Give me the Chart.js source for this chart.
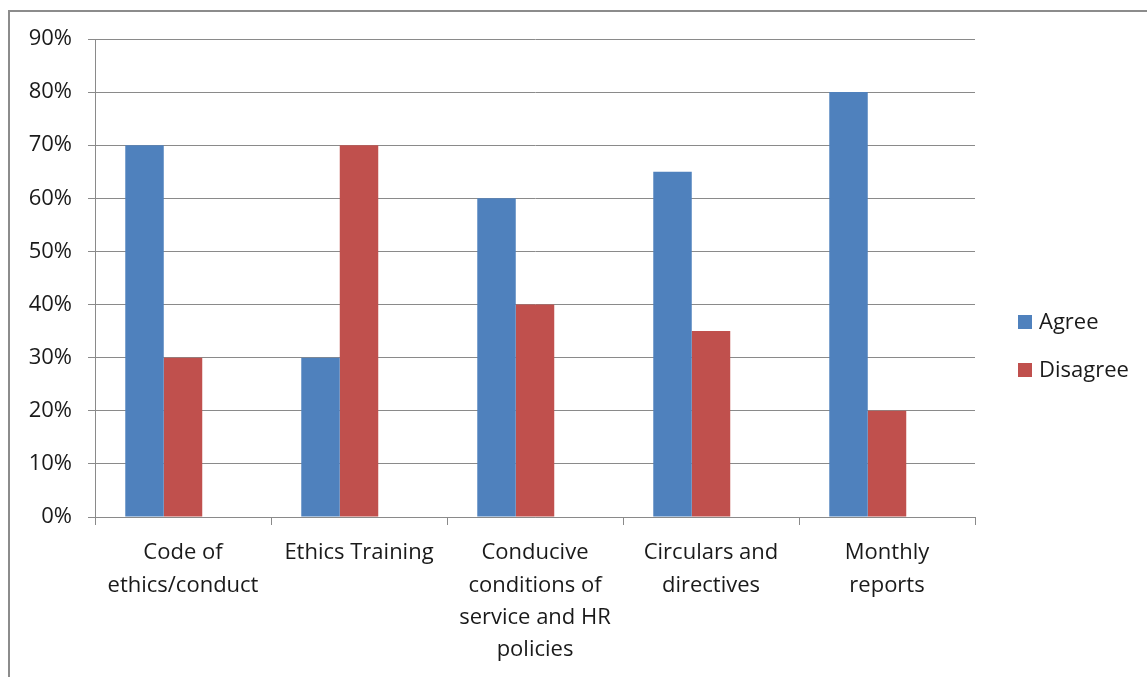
<!DOCTYPE html>
<html>
<head>
<meta charset="utf-8">
<script src="https://cdn.jsdelivr.net/npm/chart.js@4.4.0/dist/chart.umd.min.js"></script>
<style>
    body { margin: 0; background: #fff; overflow: hidden; }
    .frame {
        position: absolute; left: 8px; top: 10px;
        width: 1200px; height: 720px;
        border: 2px solid #8c8c8c;
    }
    .chart-box {
        position: absolute; left: 0; top: 0;
        width: 1147px; height: 677px;
    }
</style>
</head>
<body>
<div class="frame"></div>
<div class="chart-box"><canvas id="chart"></canvas></div>
<script>
const categories = [
    ["Code of", "ethics/conduct"],
    ["Ethics Training"],
    ["Conducive", "conditions of", "service and HR", "policies"],
    ["Circulars and", "directives"],
    ["Monthly", "reports"],
];
const agree = [70, 30, 60, 65, 80];
const disagree = [30, 70, 40, 35, 20];
// the original sheet has a third, empty series that keeps its slot
const emptySeries = [null, null, null, null, null];
const yTicks = [0, 10, 20, 30, 40, 50, 60, 70, 80, 90];

const FONT = "'Open Sans', sans-serif";
const TEXT = "#1a1a1a";
const GRID = "#8a8a8a";

// Legend drawn at the right, like the original
const sideLegend = {
    id: "sideLegend",
    afterDraw(chart) {
        const c = chart.ctx;
        c.save();
        c.font = "22px " + FONT;
        c.textBaseline = "middle";
        chart.data.datasets.forEach((ds, i) => {
            if (!ds.label) return;
            const y = 322 + i * 48;
            c.fillStyle = ds.backgroundColor;
            c.fillRect(1018, y - 7, 14, 14);
            c.fillStyle = TEXT;
            c.fillText(ds.label, 1039, y + 1);
        });
        c.restore();
    },
};

new Chart(document.getElementById("chart"), {
    type: "bar",
    data: {
        labels: categories,
        datasets: [
            { label: "Agree", data: agree, backgroundColor: "#4F81BD" },
            { label: "Disagree", data: disagree, backgroundColor: "#C0504D" },
            { label: "", data: emptySeries, backgroundColor: "#9BBB59" },
        ],
    },
    options: {
        responsive: true,
        maintainAspectRatio: false,
        animation: false,
        layout: { padding: { top: 39, right: 172, left: 0, bottom: 0 } },
        datasets: { bar: { categoryPercentage: 0.656, barPercentage: 1.0 } },
        plugins: {
            legend: { display: false },
            tooltip: { enabled: false },
        },
        scales: {
            x: {
                grid: {
                    offset: true,
                    drawOnChartArea: false,
                    color: GRID,
                    tickLength: 8,
                },
                border: { color: GRID },
                ticks: {
                    color: TEXT,
                    padding: 12,
                    maxRotation: 0,
                    autoSkip: false,
                    font: { family: FONT, size: 22, lineHeight: 1.47 },
                },
                afterFit(scale) { scale.height = 677 - 517; },
            },
            y: {
                min: 0,
                max: 90,
                afterBuildTicks(scale) {
                    scale.ticks = yTicks.map((v) => ({ value: v }));
                },
                grid: { color: GRID, tickLength: 7 },
                border: { color: GRID },
                ticks: {
                    color: TEXT,
                    padding: 16,
                    font: { family: FONT, size: 22 },
                    callback: (v) => v + "%",
                },
                afterFit(scale) { scale.width = 95; },
            },
        },
    },
    plugins: [sideLegend],
});
</script>
</body>
</html>
